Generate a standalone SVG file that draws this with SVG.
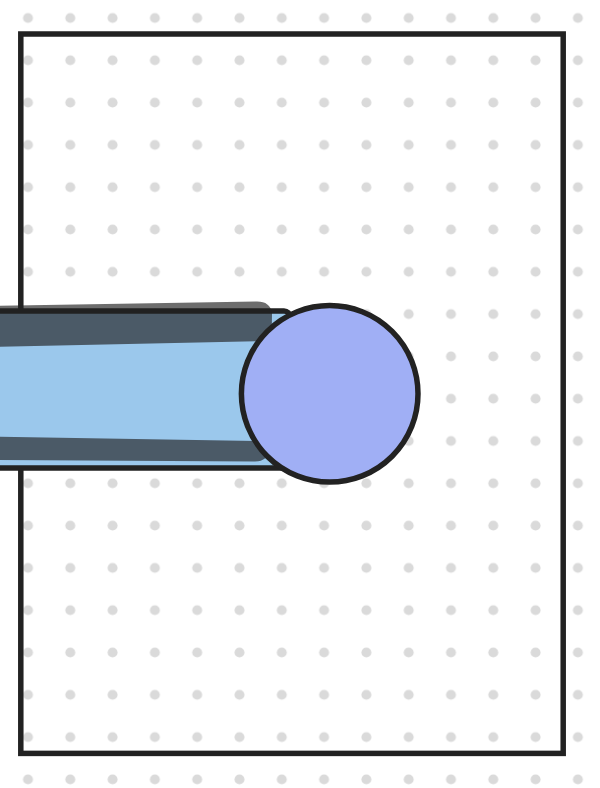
<svg xmlns="http://www.w3.org/2000/svg" width="600" height="788" viewBox="0 0 600 788">
  <defs>
    <pattern id="dots" patternUnits="userSpaceOnUse" x="6.85" y="-3.15" width="42.3" height="42.3">
      <circle cx="21.15" cy="21.15" r="5" fill="#dadada"/>
    </pattern>
  </defs>
  <style>
    .ink { stroke: #222222; stroke-width: 5.5; }
  </style>
  <rect x="0" y="0" width="600" height="788" fill="#ffffff"/>
  <rect x="0" y="0" width="600" height="788" fill="url(#dots)"/>
  <g id="frame">
    <rect x="20.8" y="34" width="542.4" height="719.4" fill="none" class="ink"/>
  </g>
  <g id="bar">
    <rect x="-20" y="311" width="310" height="157" rx="6" fill="#9bc8ec" class="ink"/>
    <path d="M -10 306 L 256 301.5 Q 270 301 272 313 L 270 448 Q 268 461.5 255 461.5 L -10 460 Z" fill="#222222" fill-opacity="0.66"/>
    <path d="M -10 347 L 290 340.5 L 290 441.5 L -10 436.5 Z" fill="#9bc8ec"/>
  </g>
  <g id="circle">
    <circle cx="329.7" cy="393.8" r="88.3" fill="#a0aff5" class="ink"/>
  </g>
</svg>
